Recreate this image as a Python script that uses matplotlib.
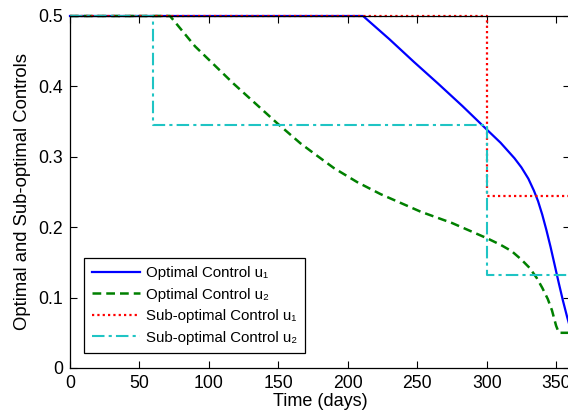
import matplotlib
matplotlib.use('Agg')
import matplotlib.pyplot as plt

plt.rcParams['font.family'] = ['Liberation Sans', 'DejaVu Sans']

# optimal control u1
t_u1 = [0, 211, 230, 247.5, 265, 282.6, 299.4, 310, 320, 325, 330, 334, 337, 340, 343, 346, 349, 352, 355, 358, 360]
u1 = [0.5, 0.5, 0.467, 0.435, 0.404, 0.372, 0.340, 0.320, 0.298, 0.285, 0.269, 0.252, 0.237, 0.218, 0.196,
      0.172, 0.146, 0.120, 0.095, 0.072, 0.058]

# optimal control u2
t_u2 = [0, 72, 90, 117.7, 149, 166, 175.5, 190, 206.8, 223.6, 252.5, 275, 300.6, 310, 318, 325, 331, 336,
        340, 344, 347, 350, 352, 360]
u2 = [0.5, 0.5, 0.457, 0.404, 0.348, 0.319, 0.305, 0.284, 0.264, 0.247, 0.222, 0.206, 0.184, 0.175, 0.166,
      0.154, 0.142, 0.128, 0.114, 0.098, 0.082, 0.060, 0.05, 0.05]

# sub-optimal (piecewise constant) controls
t_s1 = [0, 300, 300, 360]
s1 = [0.5, 0.5, 0.245, 0.245]
t_s2 = [0, 60, 60, 300, 300, 360]
s2 = [0.5, 0.5, 0.345, 0.345, 0.132, 0.132]

fig = plt.figure(figsize=(5.68, 4.2), dpi=100)
ax = fig.add_axes([70/568, 52/420, 500/568, 352/420])

ax.plot(t_u1, u1, color='#0000ff', lw=1.6, label='Optimal Control u\u2081', clip_on=False)
ax.plot(t_u2, u2, color='#008000', lw=1.8, ls=(0, (3.5, 2)), label='Optimal Control u\u2082', clip_on=False)
ax.plot(t_s1, s1, color='#ff0000', lw=1.6, ls=(0, (1, 1.4)), label='Sub-optimal Control u\u2081', clip_on=False)
ax.plot(t_s2, s2, color='#1fc4c4', lw=1.5, ls=(0, (6, 2, 1.5, 2)), label='Sub-optimal Control u\u2082', clip_on=False)

ax.set_xlim(0, 360)
ax.set_ylim(0, 0.5)
ax.set_xticks([0, 50, 100, 150, 200, 250, 300, 350])
ax.set_yticks([0, 0.1, 0.2, 0.3, 0.4, 0.5])
ax.set_yticklabels(['0', '0.1', '0.2', '0.3', '0.4', '0.5'])
ax.tick_params(direction='in', top=True, right=True, length=5, labelsize=12.7, pad=5)
for s in ax.spines.values():
    s.set_linewidth(0.9)

ax.set_xlabel('Time (days)', fontsize=13, labelpad=1)
ax.set_ylabel('Optimal and Sub-optimal Controls', fontsize=13.3, labelpad=5)

leg = ax.legend(loc='lower left', bbox_to_anchor=(0.028, 0.043), borderaxespad=0,
                fontsize=10.8, handlelength=3.2, fancybox=False, framealpha=1,
                edgecolor='black', labelspacing=0.5, borderpad=0.55, handletextpad=0.35)
leg.get_frame().set_linewidth(0.9)

fig.savefig('out.png', dpi=100)
